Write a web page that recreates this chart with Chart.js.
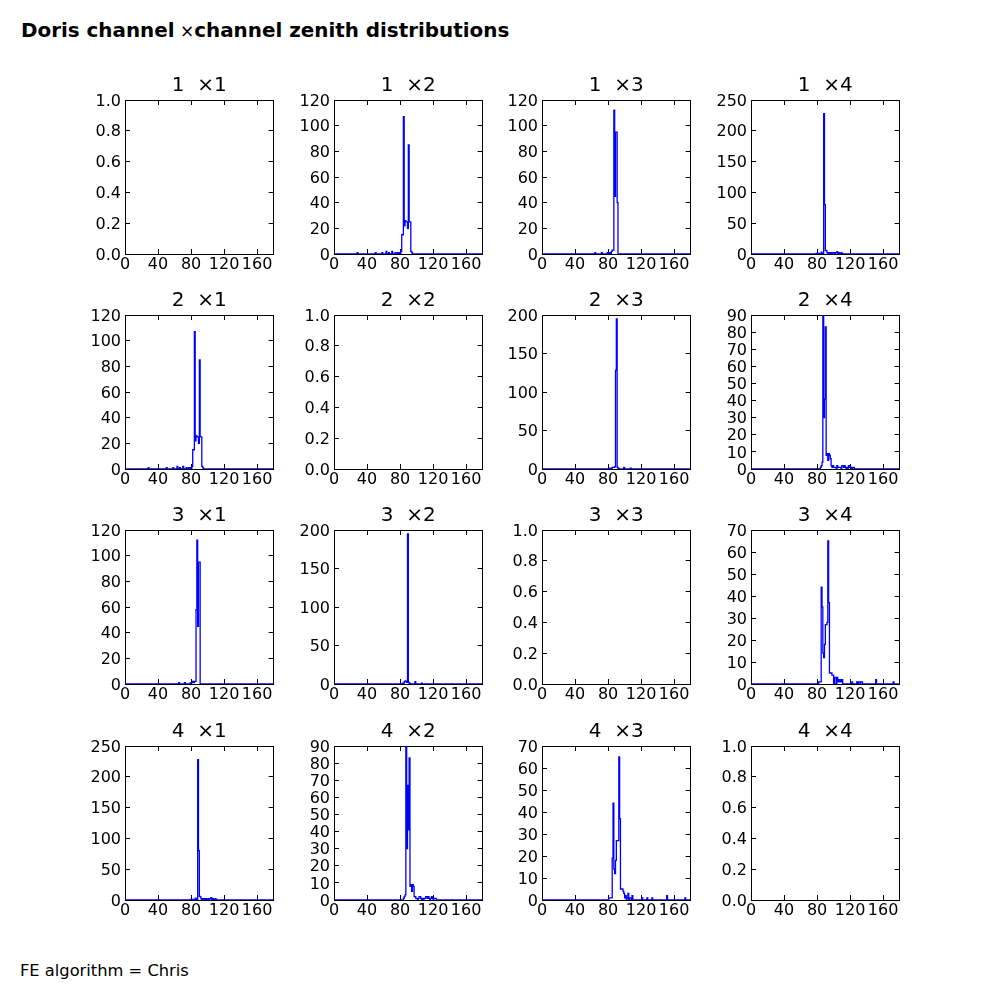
<!DOCTYPE html>
<html>
<head>
<meta charset="utf-8">
<script src="https://cdn.jsdelivr.net/npm/chart.js@4.4.1/dist/chart.umd.min.js"></script>
<style>
  html, body { margin: 0; padding: 0; background: #fff; }
  body { width: 1000px; height: 1000px; position: relative; overflow: hidden; font-family: "DejaVu Sans", sans-serif; color: #000; }
  #suptitle { position: absolute; left: 21px; top: 21px; font-size: 19.9px; font-weight: bold; line-height: 1; white-space: pre; }
  #suptitle .op { font-weight: normal; font-size: 17px; }
  #footer { position: absolute; left: 20px; top: 963px; font-size: 16.3px; line-height: 1; white-space: pre; }
  canvas { position: absolute; }
</style>
</head>
<body>
<div id="suptitle">Doris channel<span class="op"> ×</span>channel zenith distributions</div>
<div id="footer">FE algorithm = Chris</div>
<script>
// ---------------- data ----------------
const CHANNELS = ['1', '2', '3', '4'];
const X_TICKS = [0, 40, 80, 120, 160];
const X_MIN = 0, X_MAX = 180, BIN_WIDTH = 1;

// y-axis limits and tick steps per panel [row][col]
const Y_MAX  = [[1, 120, 120, 250], [120, 1, 200, 90], [120, 200, 1, 70], [250, 90, 70, 1]];
const Y_STEP = [[0.2, 20, 20, 50], [20, 0.2, 50, 10], [20, 50, 0.2, 10], [50, 10, 10, 0.2]];

// sparse histograms: lower bin edge (deg) and entries
const BINS_A   = [28,50,58,63,66,70,74,77,79,81,82,83,84,85,86,87,88,89,90,91,92,93,94];
const COUNTS_A = [1,1,1,2,1,2,1,1,1,2,15,15,107,22,26,25,25,20,85,25,25,2,1];

const BINS_B1   = [64,72,79,80,82,84,85,86,87,88,89,90,91];
const COUNTS_B1 = [1,1,1,1,1,2,3,3,112,45,95,95,40];

const BINS_B2   = [65,72,79,80,81,82,83,84,85,86,87,88,89,90];
const COUNTS_B2 = [1,1,1,1,1,2,1,2,2,58,112,45,95,95];

const BINS_C   = [79,82,85,86,87,88,89,90,91,92,93,94,95,96,97,98,99,100,101,102,103,104,105,106,107,108,109,110];
const COUNTS_C = [1,1,3,1,1,228,80,6,5,2,1,2,2,1,2,1,2,2,1,2,2,4,1,2,1,1,2,1];

const BINS_D1   = [81,84,85,86,87,88,89,90,91,92,99,107];
const COUNTS_D1 = [1,1,2,2,2,3,128,195,2,1,2,1];

const BINS_D2   = [83,85,86,87,88,89,90,91,98,106];
const COUNTS_D2 = [1,3,4,3,2,195,2,1,3,1];

const BINS_E1   = [84,85,86,87,88,89,90,91,92,93,94,95,96,97,98,99,100,101,102,104,105,106,107,108,110,111,112,113,114,116,118,119,120,121,123,124];
const COUNTS_E1 = [1,2,4,90,30,41,83,8,9,5,9,8,6,2,1,2,1,1,1,2,1,1,1,1,2,2,1,2,1,1,2,1,1,1,1,1];

const BINS_E2   = [84,85,86,87,88,89,90,91,92,93,94,95,96,97,98,99,100,102,103,104,105,107,109,110,111,112,113,114,115,117,118,119,121,122,123];
const COUNTS_E2 = [1,2,3,90,30,67,41,83,8,9,5,9,8,2,2,1,1,1,2,2,1,1,1,1,2,2,1,2,1,1,2,1,1,1,1];

const BINS_F1   = [82,83,84,85,86,87,88,89,90,91,92,93,94,95,96,97,98,99,101,102,104,105,106,107,108,109,110,122,128,130,131,133,134,151,172];
const COUNTS_F1 = [1,1,1,44,35,14,12,18,27,27,28,65,37,5,5,5,4,4,3,3,3,1,2,1,2,1,2,1,1,1,1,1,1,2,1];

const BINS_F2   = [81,82,83,84,85,86,87,88,89,90,91,92,93,94,95,96,97,98,99,100,101,103,104,106,107,109,121,127,133,151,173];
const COUNTS_F2 = [1,1,1,1,19,44,14,12,18,27,27,27,65,37,5,5,5,4,3,1,2,1,3,1,1,2,1,1,1,2,1];

const HIST = [
  [null, [BINS_A, COUNTS_A], [BINS_B1, COUNTS_B1], [BINS_C, COUNTS_C]],
  [[BINS_A, COUNTS_A], null, [BINS_D1, COUNTS_D1], [BINS_E1, COUNTS_E1]],
  [[BINS_B2, COUNTS_B2], [BINS_D2, COUNTS_D2], null, [BINS_F1, COUNTS_F1]],
  [[BINS_C, COUNTS_C], [BINS_E2, COUNTS_E2], [BINS_F2, COUNTS_F2], null]
];

// ---------------- layout ----------------
const PLOT_LEFT = [125, 334, 542, 751];
const PLOT_TOP  = [100, 315, 530, 746];
const PLOT_W = 149, PLOT_H = 154;
const PAD_L = 55, PAD_R = 5, PAD_T = 40, PAD_B = 21;
const TICK_LEN = 5;
const FONT = '"DejaVu Sans", sans-serif';
const TICK_FONT = 16;
const TITLE_FONT = 20;

Chart.defaults.font.family = FONT;
Chart.defaults.color = '#000';

function stepPoints(bins, counts) {
  const nb = Math.round((X_MAX - X_MIN) / BIN_WIDTH);
  const full = new Array(nb).fill(0);
  bins.forEach((b, i) => { full[Math.round((b - X_MIN) / BIN_WIDTH)] = counts[i]; });
  const pts = [{ x: X_MIN, y: 0 }];
  full.forEach((c, i) => pts.push({ x: X_MIN + i * BIN_WIDTH, y: c }));
  pts.push({ x: X_MAX, y: 0 });
  return pts;
}

function tickGrid() {
  return { display: true, drawOnChartArea: false, drawTicks: true, tickLength: -TICK_LEN, color: '#000', lineWidth: 1 };
}
const BORDER = { display: true, color: '#000', width: 1 };
const setXTicks = s => { s.ticks = X_TICKS.map(v => ({ value: v })); };

function makePanel(r, c) {
  const W = PAD_L + PLOT_W + PAD_R, H = PAD_T + PLOT_H + PAD_B;
  const cv = document.createElement('canvas');
  cv.width = W; cv.height = H;
  cv.style.width = W + 'px'; cv.style.height = H + 'px';
  cv.style.left = (PLOT_LEFT[c] - PAD_L) + 'px';
  cv.style.top = (PLOT_TOP[r] - PAD_T) + 'px';
  document.body.appendChild(cv);

  const h = HIST[r][c];
  const ymax = Y_MAX[r][c], ystep = Y_STEP[r][c];
  const datasets = h ? [{
    data: stepPoints(h[0], h[1]),
    borderColor: '#0000ff', borderWidth: 1.3, pointRadius: 0, pointHoverRadius: 0,
    stepped: true, fill: false, tension: 0
  }] : [];

  new Chart(cv, {
    type: 'line',
    data: { datasets },
    options: {
      responsive: false, animation: false, devicePixelRatio: 1,
      events: [],
      layout: { padding: { left: 0, right: PAD_R, top: 0, bottom: 0 } },
      plugins: {
        legend: { display: false },
        tooltip: { enabled: false },
        title: {
          display: true,
          fullSize: false,
          align: 'center',
          text: CHANNELS[r] + '  \u00d7' + CHANNELS[c],
          color: '#000',
          font: { family: FONT, size: TITLE_FONT, weight: 'normal', lineHeight: 1.2 },
          padding: { top: 13.7, bottom: 2.3 }
        }
      },
      scales: {
        x: {
          type: 'linear', position: 'bottom', min: X_MIN, max: X_MAX, display: true,
          grid: tickGrid(), border: BORDER,
          ticks: { autoSkip: false, maxRotation: 0, padding: 6, color: '#000', font: { family: FONT, size: TICK_FONT } },
          afterBuildTicks: setXTicks,
          afterFit: s => { s.height = PAD_B; }
        },
        x2: {
          type: 'linear', position: 'top', min: X_MIN, max: X_MAX, display: true,
          grid: tickGrid(), border: BORDER,
          ticks: { display: false },
          afterBuildTicks: setXTicks,
          afterFit: s => { s.height = 0; }
        },
        y: {
          type: 'linear', position: 'left', min: 0, max: ymax, display: true,
          grid: tickGrid(), border: BORDER,
          ticks: {
            stepSize: ystep, autoSkip: false, padding: 9, labelOffset: 1.5, color: '#000',
            font: { family: FONT, size: TICK_FONT },
            callback: v => (ystep < 1 ? Number(v).toFixed(1) : String(v))
          },
          afterFit: s => { s.width = PAD_L; }
        },
        y2: {
          type: 'linear', position: 'right', min: 0, max: ymax, display: true,
          grid: tickGrid(), border: BORDER,
          ticks: { display: false, stepSize: ystep, autoSkip: false },
          afterFit: s => { s.width = 0; }
        }
      }
    }
  });
}

for (let r = 0; r < 4; r++) for (let c = 0; c < 4; c++) makePanel(r, c);
</script>
</body>
</html>
